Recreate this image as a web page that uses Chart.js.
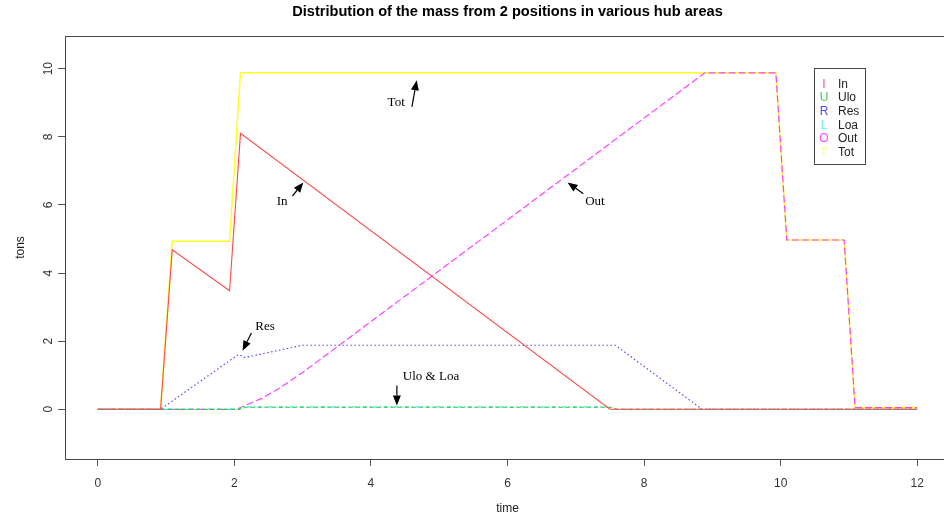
<!DOCTYPE html>
<html><head><meta charset="utf-8">
<script src="https://cdn.jsdelivr.net/npm/chart.js@4.4.1/dist/chart.umd.min.js"></script>
<style>
html,body{margin:0;padding:0;background:#fff;overflow:hidden;width:944px;height:520px}
#wrap{width:944px;height:520px;overflow:hidden;position:relative}
canvas{display:block}
</style></head>
<body><div id="wrap"><canvas id="c" width="960" height="520"></canvas></div>
<script>
// ---------- data ----------
const chartTitle = 'Distribution of the mass from 2 positions in various hub areas';
const xAxisTitle = 'time';
const yAxisTitle = 'tons';
const seriesNames = ['In', 'Ulo', 'Res', 'Loa', 'Out', 'Tot'];
const legendLetters = ['I', 'U', 'R', 'L', 'O', 'T'];
const xTickValues = [0, 2, 4, 6, 8, 10, 12];
const yTickValues = [0, 2, 4, 6, 8, 10];

const inTime  = [0, 0.92, 1.09, 1.93, 2.09, 7.50, 12];
const inTons  = [0, 0,    4.68, 3.48, 8.10, 0,    0];

const uloTime = [0, 2.08, 2.10, 7.50, 7.60, 12];
const uloTons = [0, 0,    0.06, 0.06, 0,    0];

const resTime = [0, 0.92, 2.06, 2.15, 3.00, 7.58, 8.85, 12];
const resTons = [0, 0,    1.61, 1.52, 1.88, 1.88, 0,    0];

const loaTime = [0, 2.08, 2.10, 7.50, 7.60, 12];
const loaTons = [0, 0,    0.07, 0.07, 0,    0];

const outTime = [0, 2.03, 2.40, 2.67, 3.00, 8.89, 9.93, 10.09, 10.93, 11.09, 12];
const outTons = [0, 0,    0.32, 0.63, 1.08, 9.88, 9.88, 4.97,  4.97,  0.05,  0.05];

const totTime = [0, 0.92, 1.09, 1.93, 2.09, 9.93, 10.09, 10.93, 11.09, 12];
const totTons = [0, 0,    4.93, 4.93, 9.88, 9.88, 4.97,  4.97,  0.05,  0.05];

// text notes with arrows, in data units (label position, arrow tail, arrow tip)
const noteTexts = ['Tot', 'In', 'Out', 'Res', 'Ulo & Loa'];
const noteAt    = [[4.37, 9.01], [2.70, 6.10], [7.28, 6.10], [2.45, 2.43], [4.88, 0.95]];
const noteTail  = [[4.60, 8.88], [2.85, 6.26], [7.11, 6.33], [2.25, 2.24], [4.38, 0.70]];
const noteTip   = [[4.67, 9.66], [3.01, 6.66], [6.88, 6.66], [2.12, 1.72], [4.38, 0.11]];

// ---------- styles ----------
const lineColors   = ['#ff4848', '#30c830', '#5050ff', '#30f0f0', '#ff40ff', '#ffff20'];
const letterColors = ['#f05a78', '#4cc84c', '#4a4af0', '#70f0f0', '#ff46ff', '#ffff70'];
const lineWidths = [1.1, 1.2, 1.2, 1.2, 1.2, 1.5];
const dashes = [[], [4, 3], [1.5, 2.5], [1.5, 2.5, 4, 2.5], [7, 3], []];
const SANS = '"Liberation Sans", Arial, Helvetica, sans-serif';
const SERIF = '"Liberation Serif", "Times New Roman", serif';

const pairs = (ts, vs) => ts.map((t, i) => ({x: t, y: vs[i]}));
const seriesData = [
  pairs(inTime, inTons), pairs(uloTime, uloTons), pairs(resTime, resTons),
  pairs(loaTime, loaTons), pairs(outTime, outTons), pairs(totTime, totTons)
];

const rPlot = {
  id: 'rPlot',
  afterDraw(chart) {
    const {ctx, chartArea: a, scales: {x, y}} = chart;
    ctx.save();
    // plot box
    ctx.strokeStyle = '#444'; ctx.lineWidth = 1; ctx.setLineDash([]);
    ctx.strokeRect(Math.round(a.left) + 0.5, Math.round(a.top) + 0.5,
                   Math.round(a.right - a.left), Math.round(a.bottom - a.top));
    // y tick labels (rotated, R style)
    ctx.fillStyle = '#333';
    ctx.font = '12px ' + SANS;
    ctx.textAlign = 'center'; ctx.textBaseline = 'middle';
    yTickValues.forEach(v => {
      const py = y.getPixelForValue(v);
      ctx.save(); ctx.translate(48.5, py); ctx.rotate(-Math.PI / 2);
      ctx.fillText(String(v), 0, 0); ctx.restore();
    });
    // main title
    ctx.fillStyle = '#000';
    ctx.font = 'bold 14.6px ' + SANS;
    ctx.fillText(chartTitle, (a.left + a.right) / 2, 12);
    // notes with arrows
    ctx.font = '13px ' + SERIF;
    ctx.strokeStyle = '#000'; ctx.fillStyle = '#000';
    noteTexts.forEach((t, i) => {
      ctx.fillText(t, x.getPixelForValue(noteAt[i][0]), y.getPixelForValue(noteAt[i][1]));
      const x0 = x.getPixelForValue(noteTail[i][0]), y0 = y.getPixelForValue(noteTail[i][1]);
      const x1 = x.getPixelForValue(noteTip[i][0]), y1 = y.getPixelForValue(noteTip[i][1]);
      const ang = Math.atan2(y1 - y0, x1 - x0);
      const hl = 10, hw = 4;
      const bx = x1 - hl * Math.cos(ang), by = y1 - hl * Math.sin(ang);
      ctx.beginPath(); ctx.moveTo(x0, y0); ctx.lineTo(bx, by); ctx.lineWidth = 1.2; ctx.stroke();
      ctx.beginPath(); ctx.moveTo(x1, y1);
      ctx.lineTo(bx + hw * Math.sin(ang), by - hw * Math.cos(ang));
      ctx.lineTo(bx - hw * Math.sin(ang), by + hw * Math.cos(ang));
      ctx.closePath(); ctx.fill();
    });
    // legend
    const lx = 814.5, ly = 68.5, lw = 51, lh = 96;
    ctx.lineWidth = 1; ctx.strokeStyle = '#444';
    ctx.strokeRect(lx, ly, lw, lh);
    ctx.font = '12px ' + SANS;
    seriesNames.forEach((n, i) => {
      const ry = 84.5 + i * 13.67;
      ctx.textAlign = 'center'; ctx.fillStyle = letterColors[i];
      ctx.fillText(legendLetters[i], 824, ry);
      ctx.textAlign = 'left'; ctx.fillStyle = '#222';
      ctx.fillText(n, 838, ry);
    });
    ctx.restore();
  }
};

new Chart(document.getElementById('c'), {
  type: 'line',
  data: {
    datasets: seriesNames.map((n, i) => ({
      label: n,
      data: seriesData[i],
      borderColor: lineColors[i],
      backgroundColor: lineColors[i],
      borderWidth: lineWidths[i],
      borderDash: dashes[i],
      pointRadius: 0,
      tension: 0,
      fill: false
    }))
  },
  options: {
    responsive: false,
    animation: false,
    events: [],
    layout: {padding: {top: 36, left: 0, right: 10, bottom: 0}},
    plugins: {legend: {display: false}, tooltip: {enabled: false}, title: {display: false}},
    scales: {
      x: {
        type: 'linear', min: -0.48, max: 12.48,
        afterFit: s => { s.height = 61; },
        afterBuildTicks: s => { s.ticks = xTickValues.map(v => ({value: v})); },
        grid: {drawOnChartArea: false, drawTicks: true, tickLength: 7, color: '#555'},
        border: {display: true, color: '#444'},
        ticks: {color: '#333', font: {family: SANS, size: 12}, padding: 10, maxRotation: 0, autoSkip: false},
        title: {display: true, text: xAxisTitle, color: '#222', font: {family: SANS, size: 12}, padding: {top: 0, bottom: 4}}
      },
      y: {
        type: 'linear', min: -1.46, max: 10.96,
        afterFit: s => { s.width = 65; },
        afterBuildTicks: s => { s.ticks = yTickValues.map(v => ({value: v})); },
        grid: {drawOnChartArea: false, drawTicks: true, tickLength: 7, color: '#555'},
        border: {display: true, color: '#444'},
        ticks: {display: false},
        title: {display: true, text: yAxisTitle, color: '#222', font: {family: SANS, size: 12}, padding: {top: 13, bottom: 0}}
      }
    }
  },
  plugins: [rPlot]
});
</script>
</body></html>
